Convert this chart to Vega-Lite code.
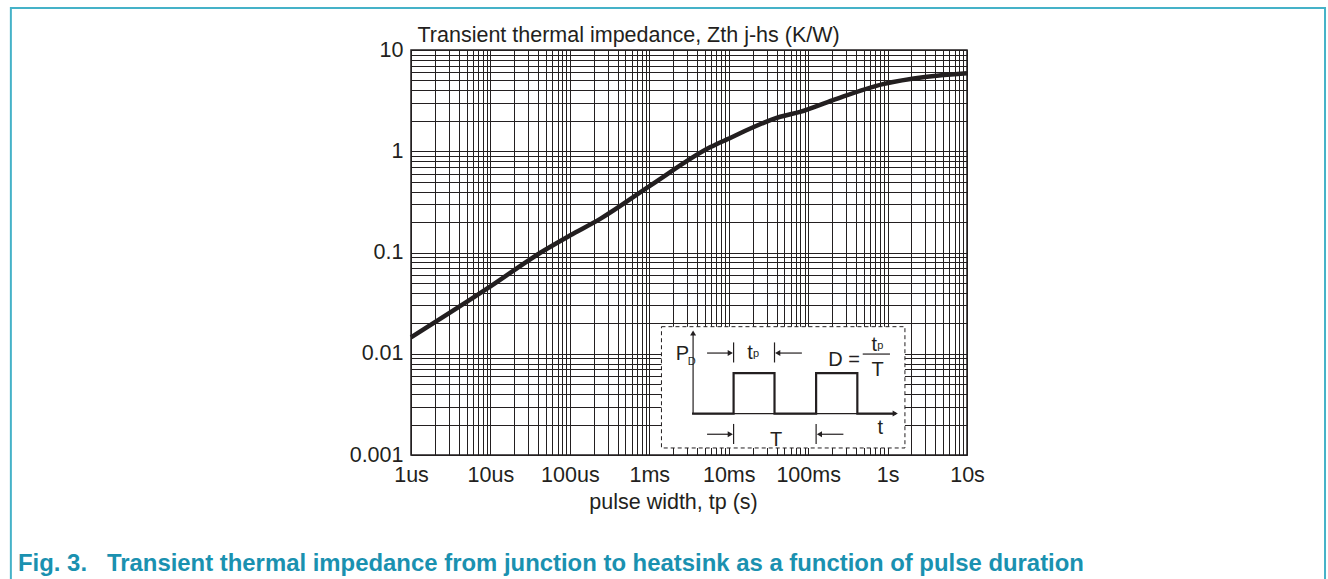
{
  "$schema": "https://vega.github.io/schema/vega-lite/v6.json",
  "width": 556,
  "height": 405,
  "autosize": {"type": "none"},
  "padding": {"left": 411, "top": 50, "right": 361, "bottom": 124},
  "background": "white",
  "config": {
    "view": {"stroke": "#231f20", "strokeWidth": 1.5},
    "font": "Liberation Sans"
  },
  "title": {
    "text": "Fig. 3.\u00a0\u00a0 Transient thermal impedance from junction to heatsink as a function of pulse duration",
    "orient": "bottom",
    "anchor": "start",
    "frame": "group",
    "dx": -393,
    "dy": -70,
    "offset": 0,
    "font": "Liberation Sans",
    "fontSize": 23.9,
    "fontWeight": "bold",
    "color": "#1a91b0",
    "baseline": "top"
  },
  "datasets": {
    "curve": [
      {"t": 1e-6, "z": 0.0145},
      {"t": 1e-5, "z": 0.0462},
      {"t": 4.3e-5, "z": 0.1},
      {"t": 1e-4, "z": 0.147},
      {"t": 2.44e-4, "z": 0.216},
      {"t": 1.04e-3, "z": 0.46},
      {"t": 5.9e-3, "z": 1.1},
      {"t": 9.5e-3, "z": 1.31},
      {"t": 0.0445, "z": 2.19},
      {"t": 0.0792, "z": 2.45},
      {"t": 0.206, "z": 3.2},
      {"t": 0.875, "z": 4.6},
      {"t": 3.13, "z": 5.44},
      {"t": 10, "z": 5.9}
    ],
    "frame": [{"t": 9.17e-12, "t2": 321700, "z": 26.05, "z2": 2.27e-5}],
    "box": [{"t": 1.423e-3, "t2": 1.654, "z": 0.01851, "z2": 0.001173}],
    "rules": [
      {"t": 0.00356, "t2": 0.00356, "z": 0.002564, "z2": 0.01603},
      {"t": 0.00356, "t2": 1.249, "z": 0.002564, "z2": 0.002564},
      {"t": 0.00534, "t2": 0.01047, "z": 0.01016, "z2": 0.01016},
      {"t": 0.0834, "t2": 0.04137, "z": 0.01016, "z2": 0.01016},
      {"t": 0.00534, "t2": 0.01047, "z": 0.001603, "z2": 0.001603},
      {"t": 0.2777, "t2": 0.1387, "z": 0.001603, "z2": 0.001603},
      {"t": 0.01152, "t2": 0.01152, "z": 0.0082, "z2": 0.01294},
      {"t": 0.03772, "t2": 0.03772, "z": 0.0082, "z2": 0.01294},
      {"t": 0.01152, "t2": 0.01152, "z": 0.001285, "z2": 0.002027},
      {"t": 0.126, "t2": 0.126, "z": 0.001285, "z2": 0.002027},
      {"t": 0.4866, "t2": 1.072, "z": 0.00993, "z2": 0.00993}
    ],
    "wave": [
      {"i": 0, "t": 0.00356, "z": 0.002564},
      {"i": 1, "t": 0.01152, "z": 0.002564},
      {"i": 2, "t": 0.01152, "z": 0.00644},
      {"i": 3, "t": 0.03772, "z": 0.00644},
      {"i": 4, "t": 0.03772, "z": 0.002564},
      {"i": 5, "t": 0.126, "z": 0.002564},
      {"i": 6, "t": 0.126, "z": 0.00644},
      {"i": 7, "t": 0.4163, "z": 0.00644},
      {"i": 8, "t": 0.4163, "z": 0.002564},
      {"i": 9, "t": 1.22, "z": 0.002564}
    ],
    "arrows": [
      {"t": 0.00356, "z": 0.01603, "dir": "up"},
      {"t": 1.249, "z": 0.002564, "dir": "right"},
      {"t": 0.01047, "z": 0.01016, "dir": "right"},
      {"t": 0.04137, "z": 0.01016, "dir": "left"},
      {"t": 0.01047, "z": 0.001603, "dir": "right"},
      {"t": 0.1387, "z": 0.001603, "dir": "left"}
    ],
    "bigtext": [
      {"t": 0.00262, "z": 0.0086, "label": "P"},
      {"t": 0.01857, "z": 0.00892, "label": "t"},
      {"t": 0.2833, "z": 0.00761, "label": "D ="},
      {"t": 0.6787, "z": 0.01059, "label": "t"},
      {"t": 0.7466, "z": 0.00606, "label": "T"},
      {"t": 0.03939, "z": 0.001228, "label": "T"},
      {"t": 0.8072, "z": 0.001603, "label": "t"}
    ],
    "smalltext": [
      {"t": 0.00342, "z": 0.00769, "label": "D"},
      {"t": 0.02203, "z": 0.00919, "label": "p"},
      {"t": 0.8096, "z": 0.01103, "label": "p"}
    ]
  },
  "encoding": {
    "x": {
      "field": "t",
      "type": "quantitative",
      "scale": {"type": "log", "domain": [1e-6, 10], "nice": false},
      "axis": {
        "values": [1e-6, 2e-6, 3e-6, 4e-6, 5e-6, 6e-6, 7e-6, 8e-6, 9e-6,
                   1e-5, 2e-5, 3e-5, 4e-5, 5e-5, 6e-5, 7e-5, 8e-5, 9e-5,
                   1e-4, 2e-4, 3e-4, 4e-4, 5e-4, 6e-4, 7e-4, 8e-4, 9e-4,
                   1e-3, 2e-3, 3e-3, 4e-3, 5e-3, 6e-3, 7e-3, 8e-3, 9e-3,
                   0.01, 0.02, 0.03, 0.04, 0.05, 0.06, 0.07, 0.08, 0.09,
                   0.1, 0.2, 0.3, 0.4, 0.5, 0.6, 0.7, 0.8, 0.9,
                   1, 2, 3, 4, 5, 6, 7, 8, 9, 10],
        "labelExpr": "abs(log(datum.value)/LN10 - round(log(datum.value)/LN10)) < 0.01 ? ['1us','10us','100us','1ms','10ms','100ms','1s','10s'][round(log(datum.value)/LN10)+6] : ''",
        "grid": true,
        "gridColor": "#231f20",
        "gridWidth": 1,
        "gridOpacity": 1,
        "ticks": false,
        "domain": false,
        "labelOverlap": false,
        "labelFlush": false,
        "labelBound": false,
        "labelFont": "Liberation Sans",
        "labelFontSize": 21.5,
        "labelColor": "#231f20",
        "labelBaseline": "alphabetic",
        "labelPadding": 26,
        "title": "pulse width, tp (s)",
        "titleFont": "Liberation Sans",
        "titleFontSize": 21.5,
        "titleFontWeight": "normal",
        "titleColor": "#231f20",
        "titleX": 262,
        "titleY": 53,
        "titleAlign": "center",
        "titleBaseline": "alphabetic"
      }
    },
    "y": {
      "field": "z",
      "type": "quantitative",
      "scale": {"type": "log", "domain": [0.001, 10], "nice": false},
      "axis": {
        "values": [0.001, 0.002, 0.003, 0.004, 0.005, 0.006, 0.007, 0.008, 0.009,
                   0.01, 0.02, 0.03, 0.04, 0.05, 0.06, 0.07, 0.08, 0.09,
                   0.1, 0.2, 0.3, 0.4, 0.5, 0.6, 0.7, 0.8, 0.9,
                   1, 2, 3, 4, 5, 6, 7, 8, 9, 10],
        "labelExpr": "abs(log(datum.value)/LN10 - round(log(datum.value)/LN10)) < 0.01 ? ['0.001','0.01','0.1','1','10'][round(log(datum.value)/LN10)+3] : ''",
        "grid": true,
        "gridColor": "#231f20",
        "gridWidth": 1,
        "gridOpacity": 1,
        "ticks": false,
        "domain": false,
        "labelOverlap": false,
        "labelFlush": false,
        "labelBound": false,
        "labelFont": "Liberation Sans",
        "labelFontSize": 21.5,
        "labelColor": "#231f20",
        "labelBaseline": "middle",
        "labelPadding": 8,
        "title": "Transient thermal impedance, Zth j-hs (K/W)",
        "titleFont": "Liberation Sans",
        "titleFontSize": 21.5,
        "titleFontWeight": "normal",
        "titleColor": "#231f20",
        "titleAngle": 0,
        "titleAlign": "left",
        "titleBaseline": "alphabetic",
        "titleX": 6,
        "titleY": -9
      }
    }
  },
  "layer": [
    {
      "data": {"name": "frame"},
      "mark": {"type": "rect", "fillOpacity": 0, "stroke": "#45b2c8", "strokeWidth": 2},
      "encoding": {"x2": {"field": "t2"}, "y2": {"field": "z2"}}
    },
    {
      "data": {"name": "curve"},
      "mark": {"type": "line", "color": "#231f20", "strokeWidth": 4.5, "strokeJoin": "round", "strokeCap": "butt", "interpolate": "monotone"},
      "encoding": {}
    },
    {
      "data": {"name": "box"},
      "mark": {"type": "rect", "fill": "white", "stroke": "#231f20", "strokeWidth": 1, "strokeDash": [4, 3]},
      "encoding": {"x2": {"field": "t2"}, "y2": {"field": "z2"}}
    },
    {
      "data": {"name": "rules"},
      "mark": {"type": "rule", "color": "#231f20", "strokeWidth": 1.2},
      "encoding": {"x2": {"field": "t2"}, "y2": {"field": "z2"}}
    },
    {
      "data": {"name": "wave"},
      "mark": {"type": "line", "color": "#231f20", "strokeWidth": 2.2, "strokeJoin": "miter", "strokeCap": "square"},
      "encoding": {"order": {"field": "i", "type": "quantitative"}}
    },
    {
      "data": {"name": "arrows"},
      "mark": {"type": "point", "filled": true, "color": "#231f20", "size": 36, "opacity": 1},
      "encoding": {
        "shape": {
          "field": "dir",
          "type": "nominal",
          "scale": {"domain": ["up", "right", "left"], "range": ["triangle-up", "triangle-right", "triangle-left"]},
          "legend": null
        }
      }
    },
    {
      "data": {"name": "bigtext"},
      "mark": {"type": "text", "font": "Liberation Sans", "fontSize": 20, "color": "#231f20", "align": "center", "baseline": "alphabetic"},
      "encoding": {"text": {"field": "label"}}
    },
    {
      "data": {"name": "smalltext"},
      "mark": {"type": "text", "font": "Liberation Sans", "fontSize": 11, "color": "#231f20", "align": "center", "baseline": "alphabetic"},
      "encoding": {"text": {"field": "label"}}
    }
  ]
}
